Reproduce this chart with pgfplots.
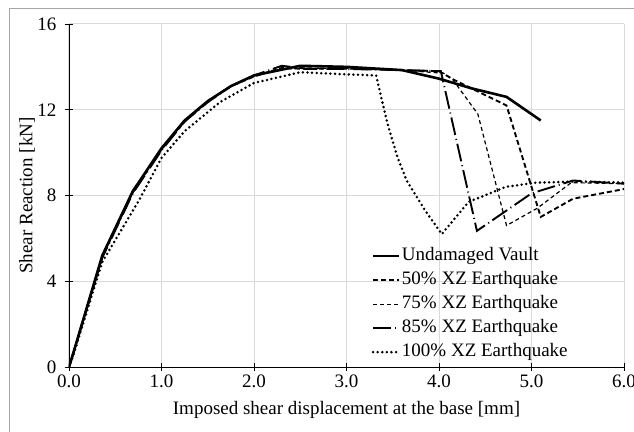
\documentclass[border=0pt]{standalone}
\usepackage{pgfplots}
\pgfplotsset{compat=1.18}
\usepackage{fontspec}
\setmainfont{Liberation Serif}
\definecolor{gridc}{HTML}{D9D9D9}
\definecolor{framec}{HTML}{A6A6A6}
\newcommand{\chartfont}{\fontsize{19bp}{22bp}\selectfont}
\begin{document}
\begin{tikzpicture}
\useasboundingbox (-69bp,-65bp) rectangle (565bp,367bp);
\draw[framec, line width=1bp] (-59bp,-70bp) -- (-59bp,358bp) -- (570bp,358bp);
\begin{axis}[
  at={(0,0)}, anchor=south west,
  scale only axis, width=555bp, height=343bp,
  xmin=0, xmax=6, ymin=0, ymax=16,
  xtick={0,1,2,3,4,5,6}, ytick={0,4,8,12,16},
  axis x line*=bottom, axis y line*=left,
  axis line style={black, line width=0.9bp, -},
  grid=major, major grid style={gridc, line width=1bp},
  tick align=center, major tick length=8bp,
  tick style={black, line width=0.9bp},
  /pgf/number format/assume math mode=true,
  tick label style={font=\chartfont},
  xticklabel style={/pgf/number format/.cd, fixed, fixed zerofill, precision=1},
  yticklabel style={xshift=-5bp},
  xlabel={Imposed shear displacement at the base [mm]},
  ylabel={Shear Reaction [kN]},
  label style={font=\chartfont},
  xlabel style={at={(axis description cs:0.5,-0.1254)}, anchor=center},
  ylabel style={at={(axis description cs:-0.0757,0.5)}, anchor=center},
  legend cell align=left,
  legend image code/.code={\draw[#1] (0bp,0bp) -- (26bp,0bp);},
  legend style={at={(axis cs:3.27,5.74)}, anchor=north west, draw=none, fill=none,
    font=\chartfont, inner sep=0pt,
    nodes={text height=13bp, text depth=4bp, inner xsep=1.5bp, inner ysep=3.5bp}},
]
\addplot[black, line width=2.6bp, line join=round] coordinates {
(0,0) (0.05,0.7) (0.36,5.2) (0.69,8.2) (1.0,10.2) (1.25,11.5) (1.5,12.4)
(1.75,13.1) (2.0,13.6) (2.5,14.05) (3.0,14.0) (3.6,13.85) (4.0,13.45)
(4.35,13.0) (4.73,12.6) (5.10,11.5)};
\addlegendentry{Undamaged Vault}
\addplot[black, line width=1.9bp, dash pattern=on 5bp off 3bp] coordinates {
(0,0) (0.05,0.7) (0.36,5.15) (0.69,8.15) (1.0,10.15) (1.25,11.45) (1.5,12.4)
(1.75,13.1) (2.0,13.55) (2.3,13.95) (2.6,13.9) (3.0,13.95) (3.6,13.85)
(4.0,13.8) (4.16,13.4) (4.73,12.2) (5.10,7.0) (5.45,7.85) (6.0,8.3)};
\addlegendentry{50\% XZ Earthquake}
\addplot[black, line width=1.2bp, dash pattern=on 4bp off 3bp] coordinates {
(0,0) (0.05,0.7) (0.36,5.15) (0.69,8.2) (1.0,10.2) (1.25,11.5) (1.5,12.4)
(1.75,13.1) (2.0,13.6) (2.3,13.9) (2.6,13.95) (3.0,13.9) (3.6,13.85)
(4.05,13.7) (4.15,13.4) (4.42,11.8) (4.73,6.6) (5.06,7.4) (5.43,8.6) (6.0,8.55)};
\addlegendentry{75\% XZ Earthquake}
\addplot[black, line width=1.9bp, dash pattern=on 18bp off 4bp on 1bp off 4bp] coordinates {
(0,0) (0.05,0.7) (0.36,5.1) (0.69,8.1) (1.0,10.1) (1.25,11.45) (1.5,12.35)
(1.75,13.1) (2.0,13.6) (2.3,14.05) (2.6,13.9) (3.0,13.9) (3.6,13.85)
(4.02,13.8) (4.41,6.35) (5.0,8.1) (5.45,8.7) (6.0,8.55)};
\addlegendentry{85\% XZ Earthquake}
\addplot[black, line width=2.8bp, line cap=round, dash pattern=on 0bp off 4.6bp] coordinates {
(0,0) (0.05,0.6) (0.36,4.9) (0.76,7.8) (1.0,9.75) (1.25,11.0) (1.63,12.35)
(2.0,13.25) (2.5,13.75) (3.0,13.65) (3.32,13.6) (3.44,11.4) (3.55,9.8)
(3.65,8.7) (3.85,7.3) (4.03,6.2) (4.32,7.7) (4.72,8.4) (5.05,8.6) (5.5,8.65) (6.0,8.6)};
\addlegendentry{100\% XZ Earthquake}
\end{axis}
\end{tikzpicture}
\end{document}
